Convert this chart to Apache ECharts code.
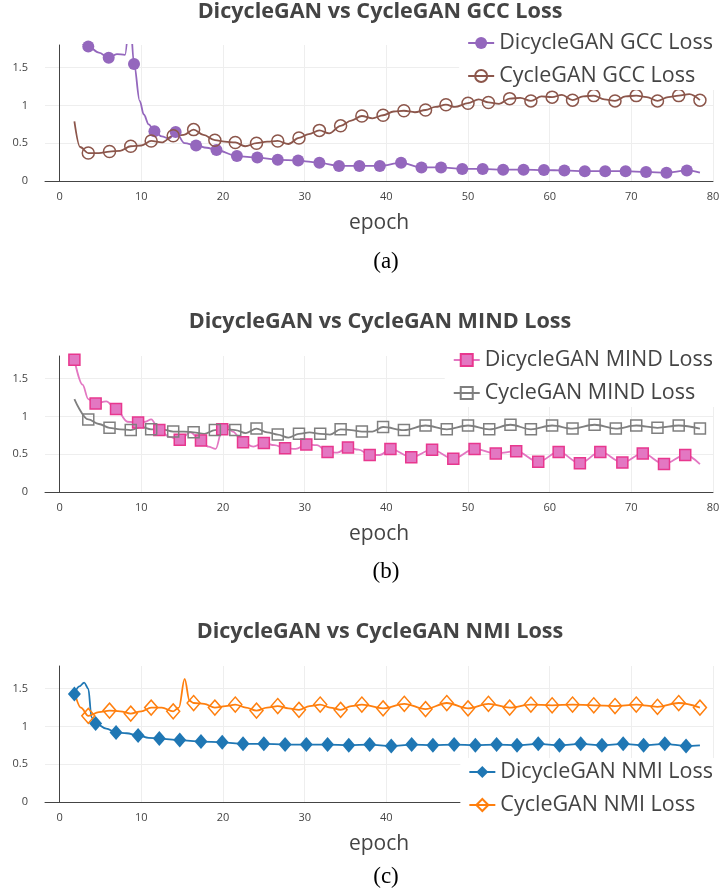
<!DOCTYPE html>
<html>
<head>
<meta charset="utf-8">
<script src="https://cdn.jsdelivr.net/npm/echarts@6/dist/echarts.min.js"></script>
<style>
html, body { margin: 0; padding: 0; background: #fff; }
#main { width: 722px; height: 896px; }
</style>
</head>
<body>
<div id="main"></div>
<script>
// ticks
var xTicks = [0, 10, 20, 30, 40, 50, 60, 70, 80];
var yTicks = [0, 0.5, 1, 1.5];

// (a) GCC loss -- marker points, then line-only points in between
var gccDicycleMarkX = [3.5, 6.0, 9.1, 11.6, 14.2, 16.7, 19.2, 21.7, 24.2, 26.7, 29.2, 31.8, 34.2, 36.7, 39.2, 41.8, 44.3, 46.7, 49.3, 51.8, 54.3, 56.8, 59.3, 61.8, 64.3, 66.8, 69.3, 71.8, 74.3, 76.8];
var gccDicycleMarkY = [1.78, 1.63, 1.55, 0.66, 0.65, 0.47, 0.41, 0.33, 0.31, 0.28, 0.27, 0.24, 0.20, 0.20, 0.20, 0.24, 0.18, 0.18, 0.16, 0.16, 0.15, 0.15, 0.145, 0.14, 0.13, 0.13, 0.13, 0.12, 0.11, 0.14];
var gccDicycleLineX = [1.8, 4.8, 7.0, 8.0, 8.6, 9.8, 10.3, 10.9, 12.5, 13.4, 15.3, 18.0, 78.4];
var gccDicycleLineY = [1.95, 1.70, 1.68, 1.67, 2.2, 1.06, 0.88, 0.75, 0.59, 0.56, 0.50, 0.44, 0.11];

var gccCycleMarkX = [3.5, 6.1, 8.7, 11.2, 13.9, 16.4, 19.0, 21.5, 24.1, 26.7, 29.3, 31.8, 34.4, 37.0, 39.6, 42.15, 44.8, 47.3, 50.0, 52.5, 55.1, 57.7, 60.3, 62.8, 65.4, 68.0, 70.6, 73.2, 75.8, 78.4];
var gccCycleMarkY = [0.37, 0.39, 0.46, 0.53, 0.60, 0.68, 0.54, 0.51, 0.50, 0.53, 0.57, 0.67, 0.73, 0.86, 0.87, 0.93, 0.94, 1.01, 1.03, 1.04, 1.09, 1.06, 1.11, 1.07, 1.13, 1.06, 1.13, 1.06, 1.13, 1.07];
var gccCycleLineX = [1.8, 2.5, 4.8, 7.4, 10.0, 12.5, 15.2, 17.6, 20.2, 22.7, 25.4, 28.0, 30.5, 33.0, 35.7, 38.3, 40.9, 43.5, 46.0, 48.4, 51.3, 53.8, 56.4, 59.0, 61.5, 64.1, 66.7, 69.3, 71.9, 74.5, 77.1];
var gccCycleLineY = [0.79, 0.45, 0.37, 0.40, 0.47, 0.51, 0.61, 0.61, 0.52, 0.46, 0.52, 0.49, 0.62, 0.63, 0.80, 0.83, 0.92, 0.91, 0.98, 0.98, 1.08, 1.02, 1.10, 1.12, 1.14, 1.12, 1.08, 1.12, 1.11, 1.11, 1.15];

// (b) MIND loss
var mindDicycleMarkX = [1.8, 4.4, 6.9, 9.6, 12.2, 14.7, 17.3, 19.9, 22.45, 25.0, 27.6, 30.2, 32.8, 35.3, 37.96, 40.5, 43.05, 45.6, 48.2, 50.8, 53.4, 55.9, 58.6, 61.1, 63.7, 66.2, 68.9, 71.4, 74.0, 76.6];
var mindDicycleMarkY = [1.75, 1.17, 1.10, 0.92, 0.82, 0.69, 0.68, 0.83, 0.66, 0.65, 0.58, 0.63, 0.53, 0.59, 0.49, 0.57, 0.46, 0.56, 0.44, 0.57, 0.51, 0.54, 0.40, 0.53, 0.38, 0.53, 0.39, 0.51, 0.37, 0.49];
var mindDicycleLineX = [2.8, 3.5, 5.7, 8.3, 10.5, 11.2, 13.4, 16.0, 18.2, 19.1, 20.3, 21.2, 23.7, 26.3, 28.9, 31.5, 34.0, 36.6, 39.2, 78.4];
var mindDicycleLineY = [1.42, 1.23, 1.20, 0.93, 0.93, 0.96, 0.73, 0.79, 0.60, 0.57, 0.90, 0.80, 0.60, 0.62, 0.57, 0.62, 0.52, 0.56, 0.49, 0.37];

var mindCycleMarkX = [3.5, 6.1, 8.7, 11.2, 13.9, 16.4, 19.0, 21.5, 24.1, 26.7, 29.3, 31.9, 34.4, 37.0, 39.6, 42.15, 44.8, 47.4, 50.0, 52.6, 55.2, 57.7, 60.3, 62.8, 65.5, 68.1, 70.6, 73.2, 75.8, 78.4];
var mindCycleMarkY = [0.96, 0.85, 0.82, 0.83, 0.80, 0.79, 0.82, 0.82, 0.84, 0.76, 0.77, 0.77, 0.83, 0.80, 0.86, 0.82, 0.88, 0.83, 0.88, 0.83, 0.89, 0.83, 0.88, 0.84, 0.89, 0.84, 0.88, 0.85, 0.88, 0.84];
var mindCycleLineX = [1.8, 4.8, 7.4, 10.0, 12.5, 15.2, 17.7, 20.3, 22.8, 25.4, 28.0, 30.6, 33.1, 35.7, 38.3];
var mindCycleLineY = [1.23, 0.90, 0.83, 0.86, 0.83, 0.80, 0.77, 0.83, 0.78, 0.79, 0.72, 0.79, 0.76, 0.82, 0.80];

// (c) NMI loss
var nmiDicycleMarkX = [1.8, 4.4, 6.9, 9.6, 12.2, 14.7, 17.3, 19.9, 22.45, 25.0, 27.6, 30.2, 32.8, 35.4, 37.96, 40.6, 43.1, 45.7, 48.3, 50.9, 53.5, 56.0, 58.6, 61.2, 63.8, 66.4, 69.0, 71.5, 74.1, 76.7];
var nmiDicycleMarkY = [1.43, 1.04, 0.92, 0.88, 0.84, 0.82, 0.80, 0.79, 0.77, 0.77, 0.76, 0.76, 0.76, 0.75, 0.76, 0.74, 0.76, 0.75, 0.76, 0.75, 0.76, 0.75, 0.77, 0.75, 0.77, 0.75, 0.77, 0.75, 0.77, 0.74];
var nmiDicycleLineX = [2.4, 3.0, 3.5, 3.9, 5.7, 8.2, 10.9, 78.4];
var nmiDicycleLineY = [1.53, 1.58, 1.50, 1.12, 0.97, 0.91, 0.85, 0.75];

var nmiCycleMarkX = [3.5, 6.1, 8.7, 11.2, 13.9, 16.4, 19.0, 21.5, 24.1, 26.7, 29.3, 31.9, 34.4, 37.0, 39.6, 42.2, 44.8, 47.4, 50.0, 52.5, 55.1, 57.7, 60.3, 62.8, 65.4, 68.0, 70.6, 73.2, 75.8, 78.4];
var nmiCycleMarkY = [1.14, 1.21, 1.17, 1.25, 1.20, 1.31, 1.25, 1.29, 1.21, 1.27, 1.22, 1.29, 1.22, 1.29, 1.24, 1.30, 1.23, 1.31, 1.24, 1.30, 1.25, 1.29, 1.28, 1.29, 1.28, 1.27, 1.29, 1.26, 1.31, 1.25];
var nmiCycleLineX = [1.8, 2.6, 4.8, 7.4, 10.0, 12.5, 14.6, 15.3, 15.9, 17.7, 20.3, 22.8, 25.4, 28.0, 30.6, 33.1, 35.7];
var nmiCycleLineY = [1.46, 1.25, 1.19, 1.20, 1.20, 1.25, 1.25, 1.63, 1.34, 1.30, 1.27, 1.25, 1.25, 1.24, 1.27, 1.25, 1.27];

var FONT = 'Open Sans';
var gridTops = [45, 356, 666];

// markers only on the mark points, line through everything
function points(markX, markY, lineX, lineY) {
    var pts = [];
    markX.forEach(function (x, i) { pts.push({ value: [x, markY[i]] }); });
    lineX.forEach(function (x, i) { pts.push({ value: [x, lineY[i]], symbol: 'none' }); });
    pts.sort(function (a, b) { return a.value[0] - b.value[0]; });
    return pts;
}

function line(name, idx, data, color, symbol, size, fill, border, borderWidth) {
    return {
        name: name, type: 'line', xAxisIndex: idx, yAxisIndex: idx,
        data: data, smooth: 0.35, smoothMonotone: 'x', showAllSymbol: true,
        symbol: symbol, symbolSize: size, clip: true,
        lineStyle: { color: color, width: 1.8 },
        itemStyle: { color: fill, borderColor: border, borderWidth: borderWidth },
        emphasis: { disabled: true }
    };
}

var grids = [], xAxes = [], yAxes = [];
gridTops.forEach(function (top, i) {
    grids.push({ left: 45, right: 9, top: top, height: 136, containLabel: false, outerBoundsMode: 'none' });
    xAxes.push({
        type: 'value', gridIndex: i, min: -1.8, max: 80,
        name: 'epoch', nameLocation: 'middle', nameGap: 32,
        nameTextStyle: { fontFamily: FONT, fontSize: 21, color: '#444' },
        axisLine: { onZero: true, lineStyle: { color: '#444', width: 1 } },
        axisTick: { show: false, customValues: xTicks },
        axisLabel: { customValues: xTicks, margin: 10, fontFamily: FONT, fontSize: 11, color: '#444' },
        splitLine: { show: true, showMinLine: false, lineStyle: { color: '#eee', width: 1 } }
    });
    yAxes.push({
        type: 'value', gridIndex: i, min: 0, max: 1.8,
        name: 'value', nameLocation: 'middle', nameGap: 36,
        nameTextStyle: { fontFamily: FONT, fontSize: 21, color: '#444' },
        axisLine: { show: true, onZero: true, lineStyle: { color: '#444', width: 1 } },
        axisTick: { show: false, customValues: yTicks },
        axisLabel: { customValues: yTicks, margin: 17, fontFamily: FONT, fontSize: 11, color: '#444' },
        splitLine: { show: true, showMinLine: false, lineStyle: { color: '#eee', width: 1 } }
    });
});

function legendAt(top, names, padBottom) {
    return {
        data: names, orient: 'vertical', right: 1, top: top,
        itemWidth: 26, itemHeight: 15, itemGap: 9,
        padding: [2, 8, padBottom, 8], backgroundColor: '#fff',
        selectedMode: false,
        textStyle: { fontFamily: FONT, fontSize: 21.5, color: '#444', lineHeight: 24 }
    };
}

function title(text, y) {
    return {
        type: 'text', x: 380, y: y,
        style: { text: text, font: 'bold 21.6px "Open Sans"', fill: '#444', align: 'center', verticalAlign: 'middle' }
    };
}
function caption(text, y) {
    return {
        type: 'text', x: 386, y: y,
        style: { text: text, font: '23px "Liberation Serif"', fill: '#000', align: 'center', verticalAlign: 'middle' }
    };
}

var chart = echarts.init(document.getElementById('main'));
chart.setOption({
    animation: false,
    backgroundColor: '#fff',
    grid: grids,
    xAxis: xAxes,
    yAxis: yAxes,
    legend: [
        legendAt(29, ['DicycleGAN GCC Loss', 'CycleGAN GCC Loss'], 2),
        legendAt(346, ['DicycleGAN MIND Loss', 'CycleGAN MIND Loss'], 2),
        legendAt(758, ['DicycleGAN NMI Loss', 'CycleGAN NMI Loss'], 9)
    ],
    graphic: [
        title('DicycleGAN vs CycleGAN GCC Loss', 12),
        title('DicycleGAN vs CycleGAN MIND Loss', 322),
        title('DicycleGAN vs CycleGAN NMI Loss', 632),
        caption('(a)', 262),
        caption('(b)', 572),
        caption('(c)', 877)
    ],
    series: [
        line('DicycleGAN GCC Loss', 0, points(gccDicycleMarkX, gccDicycleMarkY, gccDicycleLineX, gccDicycleLineY), '#9467bd', 'circle', 12, '#9467bd', '#9467bd', 0),
        line('CycleGAN GCC Loss', 0, points(gccCycleMarkX, gccCycleMarkY, gccCycleLineX, gccCycleLineY), '#8c564b', 'circle', 12, 'rgba(0,0,0,0)', '#8c564b', 1.5),
        line('DicycleGAN MIND Loss', 1, points(mindDicycleMarkX, mindDicycleMarkY, mindDicycleLineX, mindDicycleLineY), '#e377c2', 'rect', 11, '#e377c2', '#e8378e', 1.5),
        line('CycleGAN MIND Loss', 1, points(mindCycleMarkX, mindCycleMarkY, mindCycleLineX, mindCycleLineY), '#7f7f7f', 'rect', 11, 'rgba(0,0,0,0)', '#7f7f7f', 1.5),
        line('DicycleGAN NMI Loss', 2, points(nmiDicycleMarkX, nmiDicycleMarkY, nmiDicycleLineX, nmiDicycleLineY), '#1f77b4', 'diamond', [13, 15], '#1f77b4', '#1f77b4', 0),
        line('CycleGAN NMI Loss', 2, points(nmiCycleMarkX, nmiCycleMarkY, nmiCycleLineX, nmiCycleLineY), '#ff7f0e', 'diamond', [13, 15], 'rgba(0,0,0,0)', '#ff7f0e', 1.5)
    ]
});
</script>
</body>
</html>
